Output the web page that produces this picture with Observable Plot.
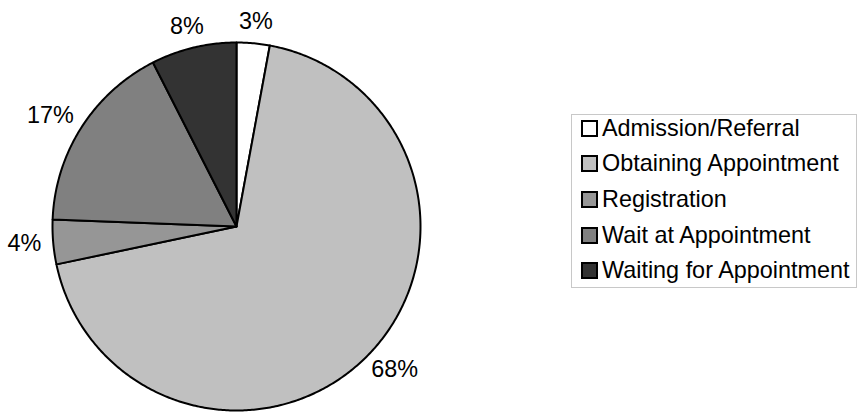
<!DOCTYPE html>
<html>
<head>
<meta charset="utf-8">
<script src="https://cdn.jsdelivr.net/npm/d3@7"></script>
<script src="https://cdn.jsdelivr.net/npm/@observablehq/plot@0.6"></script>
<style>
  body { margin: 0; background: #fff; font-family: "Liberation Sans", Arial, sans-serif; }
  #wrap { position: relative; width: 859px; height: 412px; overflow: hidden; }
  #legend { position: absolute; left: 571px; top: 114px; width: 286px; height: 174px;
    border: 1px solid #c8c8c8; box-sizing: border-box; }
  .item { position: absolute; left: 0; display: flex; align-items: center; height: 26px; font-size: 23.4px; color: #000; white-space: nowrap; }
  .sw { width: 13px; height: 13px; border: 2px solid #000; margin-left: 9px; margin-right: 4px; flex: none; }
</style>
</head>
<body>
<div id="wrap"><div id="chart"></div><div id="legend"></div></div>
<script>
const categories = ["Admission/Referral", "Obtaining Appointment", "Registration", "Wait at Appointment", "Waiting for Appointment"];
const values = [2.9, 68.8, 3.9, 16.9, 7.5];
const labels = ["3%", "68%", "4%", "17%", "8%"];
const colors = ["#ffffff", "#c0c0c0", "#969696", "#808080", "#333333"];

const fontSize = 23.4;
const cx = 236, cy = 226, r = 184;
const total = d3.sum(values);
const polys = [];
const labelPts = [];
let acc = 0;
values.forEach((v, i) => {
  const a0 = acc / total * 2 * Math.PI;
  acc += v;
  const a1 = acc / total * 2 * Math.PI;
  polys.push({cat: categories[i], x: 0, y: 0});
  const n = Math.max(4, Math.ceil((a1 - a0) / 0.01));
  for (let j = 0; j <= n; j++) {
    const a = a0 + (a1 - a0) * j / n;
    polys.push({cat: categories[i], x: Math.sin(a), y: Math.cos(a)});
  }
  const am = (a0 + a1) / 2;
  const ux = Math.sin(am), uy = Math.cos(am);
  // label box half-extents (in radius units) to keep a constant gap from the rim
  const hw = labels[i].length * 0.34 * fontSize / r;
  const hh = 0.36 * fontSize / r;
  const gap = 13 / r;
  labelPts.push({label: labels[i], x: (1 + gap) * ux + hw * ux, y: (1 + gap) * uy + hh * uy});
});

const chart = Plot.plot({
  width: 859,
  height: 412,
  margin: 0,
  style: {fontFamily: "'Liberation Sans', Arial, sans-serif", background: "#fff"},
  x: {domain: [-1, 1], range: [cx - r, cx + r], axis: null},
  y: {domain: [-1, 1], range: [cy + r, cy - r], axis: null},
  color: {domain: categories, range: colors},
  marks: [
    Plot.line(polys, {x: "x", y: "y", z: "cat", fill: "cat", stroke: "#000", strokeWidth: 2, strokeLinejoin: "round", curve: "linear-closed"}),
    Plot.text(labelPts, {x: "x", y: "y", text: "label", fontSize: fontSize, fill: "#000"})
  ]
});
document.getElementById("chart").appendChild(chart);

const legend = document.getElementById("legend");
categories.forEach((c, i) => {
  const it = document.createElement("div");
  it.className = "item";
  it.style.top = (13 + 35.7 * i - 13) + "px";
  const sw = document.createElement("span");
  sw.className = "sw";
  sw.style.background = colors[i];
  const t = document.createElement("span");
  t.textContent = c;
  it.appendChild(sw); it.appendChild(t);
  legend.appendChild(it);
});
</script>
</body>
</html>
